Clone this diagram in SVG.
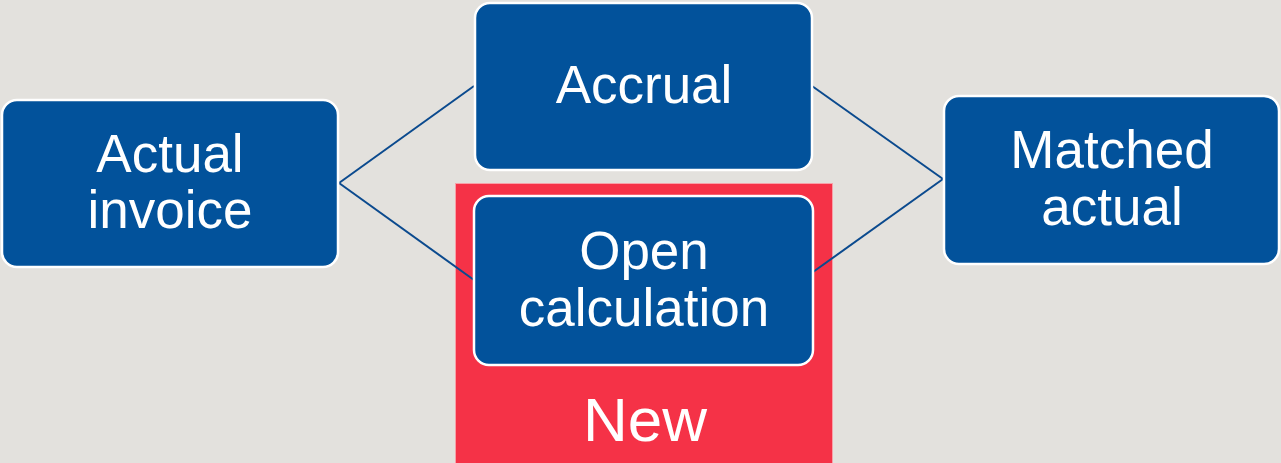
<svg xmlns="http://www.w3.org/2000/svg" width="1281" height="463" viewBox="0 0 1281 463">
<style>
.box{fill:#02529B;stroke:#ffffff;stroke-width:2.5}
.t{font-family:"Liberation Sans",Arial,sans-serif;font-size:53px;fill:#ffffff;text-anchor:middle}
.conn{stroke:#0B4A8E;stroke-width:2;fill:none}
</style>
<rect x="0" y="0" width="1281" height="463" fill="#E3E1DD"/>
<g id="new-area">
<rect x="455.5" y="183.5" width="377" height="290" fill="#F53247" stroke="#F8A0A8" stroke-width="1"/>
<text class="t" x="645" y="441" style="font-size:62px">New</text>
</g>
<g id="connectors">
<line class="conn" x1="339" y1="183" x2="474" y2="86"/>
<line class="conn" x1="339" y1="183" x2="474" y2="280"/>
<line class="conn" x1="812" y1="86" x2="943" y2="179"/>
<line class="conn" x1="813" y1="272" x2="943" y2="179"/>
</g>
<g id="actual-invoice">
<rect class="box" x="2" y="100" width="336" height="167" rx="15"/>
<text class="t" x="170" y="172">Actual</text>
<text class="t" x="170" y="228">invoice</text>
</g>
<g id="accrual">
<rect class="box" x="475" y="3" width="337" height="167" rx="15"/>
<text class="t" x="644" y="103">Accrual</text>
</g>
<g id="open-calculation">
<rect class="box" x="474" y="196" width="339" height="169" rx="15"/>
<text class="t" x="644" y="269">Open</text>
<text class="t" x="644" y="326">calculation</text>
</g>
<g id="matched-actual">
<rect class="box" x="944" y="96" width="335" height="168" rx="15"/>
<text class="t" x="1112" y="168">Matched</text>
<text class="t" x="1112" y="225">actual</text>
</g>
</svg>
